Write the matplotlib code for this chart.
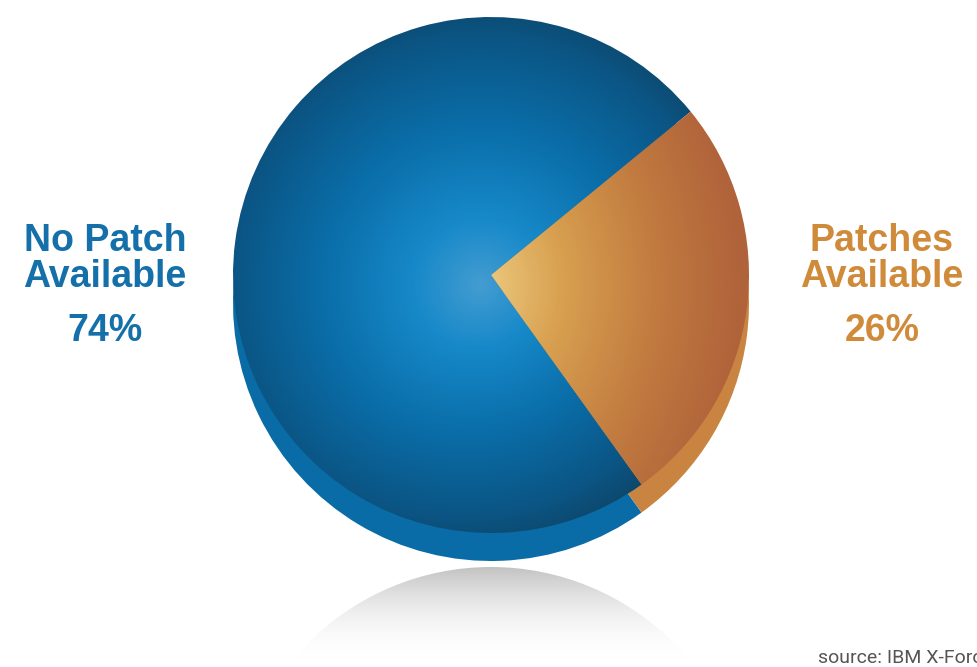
import numpy as np
import matplotlib.pyplot as plt
from matplotlib.patches import Circle
from matplotlib.colors import LinearSegmentedColormap

# share of known vulnerabilities
labels = ['No Patch\nAvailable', 'Patches\nAvailable']
shares = [74, 26]
label_colors = ['#1570aa', '#d08b3a']
source_note = 'source: IBM X-Force'

W, H = 978, 667
cx, cy, R = 491, 392, 258     # pie centre/radius in pixel units (y up)
depth = 28                    # visible thickness of the disc
start = 39.3                  # where the blue slice starts

fig = plt.figure(figsize=(W / 100, H / 100), dpi=100)
ax = fig.add_axes([0, 0, 1, 1])

# side of the disc, drawn as a second pie shifted down
side, _ = ax.pie(shares, colors=['#0a6ca6', '#c98441'], center=(cx, cy - depth),
                 radius=R, startangle=start, counterclock=True,
                 wedgeprops=dict(linewidth=0))
for w in side:
    w.set_zorder(1)

# top face
top, _ = ax.pie(shares, colors=['none', 'none'], center=(cx, cy), radius=R,
                startangle=start, counterclock=True,
                wedgeprops=dict(linewidth=0))

xx, yy = np.meshgrid(np.linspace(0, W, W), np.linspace(0, H, H))
dist = np.hypot(xx - (cx - 10), yy - (cy - 10)) / R

blue_cm = LinearSegmentedColormap.from_list(
    'blue', [(0, '#4a9fd2'), (0.25, '#1789c9'), (0.55, '#0a6ea9'),
             (0.85, '#0b5584'), (1.0, '#0d4567')])
# slightly darker towards the upper right
tilt = ((xx - cx) - (yy - cy)) / (2.2 * R)
t_blue = np.clip(dist * 0.85 + 0.15 * np.clip(tilt, 0, 1) + 0.03, 0, 1)
img = ax.imshow(blue_cm(t_blue), extent=[0, W, 0, H], origin='lower',
                zorder=2, interpolation='bilinear')
img.set_clip_path(top[0])

orange_cm = LinearSegmentedColormap.from_list(
    'orange', [(0, '#ecc97e'), (0.3, '#d8a050'), (0.65, '#c27c40'),
               (1.0, '#b0623a')])
t_or = np.clip(0.6 * dist + 0.4 * np.clip((xx - cx) / R, 0, 1), 0, 1)
img2 = ax.imshow(orange_cm(t_or), extent=[0, W, 0, H], origin='lower',
                 zorder=2, interpolation='bilinear')
img2.set_clip_path(top[1])

# soft grey reflection under the disc
refl_top = cy - R - depth - 6
refl = Circle((cx, refl_top - R), R, transform=ax.transData, facecolor='none',
              edgecolor='none')
ax.add_patch(refl)
fade = np.clip((refl_top - yy) / 95.0, 0, 1)
grey = np.ones((H, W, 4))
grey[..., :3] = 0.76 + 0.24 * fade[..., None]
grey[..., 3] = np.clip(1 - fade, 0, 1)
img3 = ax.imshow(grey, extent=[0, W, 0, H], origin='lower', zorder=0,
                 interpolation='bilinear')
img3.set_clip_path(refl)

font = 'Liberation Sans'
label_x = [105, 882]
for lx, lab, pct, col in zip(label_x, labels, shares, label_colors):
    ax.text(lx, H - 259, lab, ha='center', va='center', fontsize=27,
            fontweight='bold', color=col, family=font, linespacing=0.98)
    ax.text(lx, H - 331, f'{pct}%', ha='center', va='center', fontsize=27,
            fontweight='bold', color=col, family=font)

ax.text(818, H - 658, source_note, ha='left', va='center', fontsize=14,
        color='#555555', family='Roboto')

ax.set_xlim(0, W)
ax.set_ylim(0, H)
ax.set_aspect('auto')
ax.axis('off')

fig.savefig('out.png', dpi=100, facecolor='white')
